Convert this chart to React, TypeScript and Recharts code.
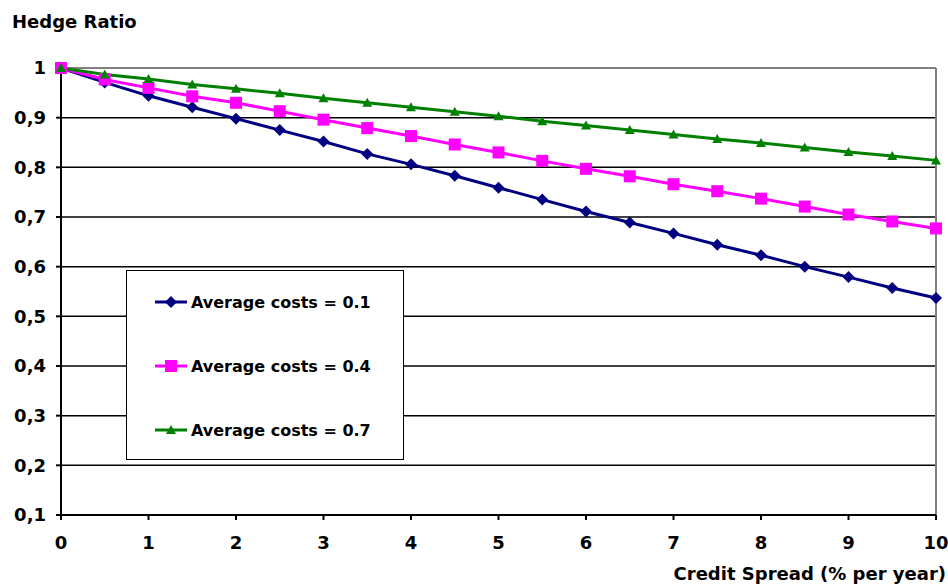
import { LineChart, Line, XAxis, YAxis, CartesianGrid, ReferenceLine } from 'recharts';

const spreads = [0, 0.5, 1, 1.5, 2, 2.5, 3, 3.5, 4, 4.5, 5, 5.5, 6, 6.5, 7, 7.5, 8, 8.5, 9, 9.5, 10];
const costs01 = [1, 0.971, 0.944, 0.921, 0.898, 0.875, 0.852, 0.827, 0.806, 0.783, 0.759, 0.735, 0.711, 0.689, 0.667, 0.644, 0.623, 0.6, 0.579, 0.557, 0.537];
const costs04 = [1, 0.977, 0.96, 0.943, 0.93, 0.913, 0.896, 0.879, 0.863, 0.846, 0.83, 0.813, 0.797, 0.782, 0.766, 0.752, 0.737, 0.721, 0.705, 0.691, 0.677];
const costs07 = [1, 0.987, 0.978, 0.967, 0.958, 0.949, 0.939, 0.93, 0.921, 0.912, 0.903, 0.893, 0.884, 0.875, 0.866, 0.857, 0.849, 0.84, 0.831, 0.823, 0.814];
const yTicks = [0.1, 0.2, 0.3, 0.4, 0.5, 0.6, 0.7, 0.8, 0.9, 1];
const xTicks = [0, 1, 2, 3, 4, 5, 6, 7, 8, 9, 10];

const data = spreads.map((s, i) => ({ spread: s, c1: costs01[i], c4: costs04[i], c7: costs07[i] }));

const FONT = '"DejaVu Sans", sans-serif';

const series = [
  { key: 'c1', name: 'Average costs = 0.1', color: '#000080', shape: 'diamond' },
  { key: 'c4', name: 'Average costs = 0.4', color: '#ff00ff', shape: 'square' },
  { key: 'c7', name: 'Average costs = 0.7', color: '#008000', shape: 'triangle' },
];

const Marker = ({ shape, cx, cy, color }: any) => {
  if (cx == null || cy == null) return null;
  if (shape === 'diamond') {
    return <polygon points={`${cx},${cy - 6} ${cx + 6},${cy} ${cx},${cy + 6} ${cx - 6},${cy}`} fill={color} />;
  }
  if (shape === 'square') {
    return <rect x={cx - 6} y={cy - 6} width={12} height={12} fill={color} />;
  }
  return <polygon points={`${cx},${cy - 5} ${cx + 5},${cy + 4} ${cx - 5},${cy + 4}`} fill={color} />;
};

// legend drawn as a plain box over the plot, like the original
const LegendBox = () => (
  <div style={{ position: 'absolute', left: 126, top: 270, width: 278, height: 190, border: '1.5px solid #000', background: '#fff', boxSizing: 'border-box' }}>
    {series.map((s, i) => (
      <div key={s.key} style={{ position: 'absolute', left: 27, top: 21 + i * 64, display: 'flex', alignItems: 'center', height: 20 }}>
        <svg width={34} height={16}>
          <line x1={1} y1={8} x2={33} y2={8} stroke={s.color} strokeWidth={3} />
          <Marker shape={s.shape} cx={17} cy={8} color={s.color} />
        </svg>
        <span style={{ fontFamily: FONT, fontWeight: 'bold', fontSize: 16, color: '#000', marginLeft: 3, whiteSpace: 'nowrap' }}>{s.name}</span>
      </div>
    ))}
  </div>
);

const fmtY = (v: number) => (v === 1 ? '1' : v.toFixed(1).replace('.', ','));

export default function App() {
  return (
    <div style={{ position: 'absolute', left: 0, top: 0, width: 948, height: 588, background: '#fff' }}>
      <div style={{ position: 'absolute', left: 12, top: 11, fontFamily: FONT, fontWeight: 'bold', fontSize: 18, color: '#000', whiteSpace: 'nowrap' }}>
        Hedge Ratio
      </div>
      <div style={{ position: 'absolute', right: 2, top: 563, fontFamily: FONT, fontWeight: 'bold', fontSize: 18, color: '#000', whiteSpace: 'nowrap' }}>
        Credit Spread (% per year)
      </div>
      <LineChart width={948} height={588} data={data} margin={{ top: 68, right: 12, bottom: 33, left: 0 }}>
        <CartesianGrid horizontal vertical={false} stroke="#000" strokeWidth={1.5} />
        <XAxis
          dataKey="spread"
          type="number"
          domain={[0, 10]}
          ticks={xTicks}
          height={40}
          stroke="#000"
          strokeWidth={2}
          tickSize={5}
          tickMargin={16}
          tick={{ fill: '#000', fontFamily: FONT, fontWeight: 'bold', fontSize: 18 }}
        />
        <YAxis
          type="number"
          domain={[0.1, 1]}
          ticks={yTicks}
          width={61}
          stroke="#000"
          strokeWidth={2}
          tickSize={5}
          tickMargin={10}
          tickFormatter={fmtY}
          tick={{ fill: '#000', fontFamily: FONT, fontWeight: 'bold', fontSize: 18 }}
        />
        <ReferenceLine y={1} stroke="#808080" strokeWidth={2} />
        <ReferenceLine x={10} stroke="#808080" strokeWidth={2} />
        {series.map((s) => (
          <Line
            key={s.key}
            type="linear"
            dataKey={s.key}
            name={s.name}
            stroke={s.color}
            strokeWidth={3}
            isAnimationActive={false}
            dot={(p: any) => <Marker key={`${s.key}-${p.index}`} shape={s.shape} cx={p.cx} cy={p.cy} color={s.color} />}
            activeDot={false}
          />
        ))}
      </LineChart>
      <LegendBox />
    </div>
  );
}
